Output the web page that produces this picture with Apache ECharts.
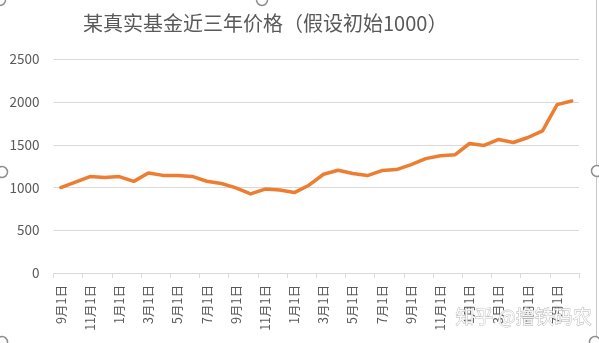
<!DOCTYPE html>
<html>
<head>
<meta charset="utf-8">
<script src="https://cdn.jsdelivr.net/npm/echarts@6/dist/echarts.min.js"></script>
<style>
  html, body { margin: 0; padding: 0; background: #ffffff; }
  #chart { width: 599px; height: 343px; }
</style>
</head>
<body>
<div id="chart"></div>
<script>
// Monthly dates over three years, starting September
const months = [
  '9月1日', '10月1日', '11月1日', '12月1日',
  '1月1日', '2月1日', '3月1日', '4月1日', '5月1日', '6月1日',
  '7月1日', '8月1日', '9月1日', '10月1日', '11月1日', '12月1日',
  '1月1日', '2月1日', '3月1日', '4月1日', '5月1日', '6月1日',
  '7月1日', '8月1日', '9月1日', '10月1日', '11月1日', '12月1日',
  '1月1日', '2月1日', '3月1日', '4月1日', '5月1日', '6月1日',
  '7月1日', '8月1日'
];

// Fund price, base 1000
const prices = [
  1000, 1062, 1128, 1118, 1128, 1072, 1171, 1142, 1140, 1130,
  1073, 1047, 995, 925, 982, 972, 941, 1027, 1155, 1202,
  1164, 1140, 1198, 1210, 1268, 1338, 1372, 1382, 1515, 1492,
  1562, 1527, 1585, 1663, 1970, 2013
];

const yTicks = { min: 0, max: 2500, step: 500 };

const titleText = '某真实基金近三年价格（假设初始1000）';
const watermark = '知乎 @撸铁码农';

const gray = '#595959';
const gridGray = '#d9d9d9';
const font = '"Noto Sans CJK SC", "Liberation Sans", sans-serif';

const chart = echarts.init(document.getElementById('chart'), null, { renderer: 'canvas' });

// Selection handles around the chart frame
const handles = [[0, 0], [262, 0], [2, 172], [597, 171], [2, 342], [595, 342]].map(([x, y]) => ({
  type: 'circle',
  shape: { cx: x, cy: y, r: 5.5 },
  style: { fill: '#ffffff', stroke: '#8f8f8f', lineWidth: 1.5 },
  z: 100
}));

chart.setOption({
  animation: false,
  backgroundColor: '#ffffff',
  title: {
    text: titleText,
    left: 78,
    top: 8,
    textStyle: { color: gray, fontSize: 20, fontWeight: 'normal', fontFamily: font }
  },
  grid: { left: 53.5, right: 20, top: 59.3, bottom: 70 },
  xAxis: {
    type: 'category',
    data: months,
    boundaryGap: true,
    axisLine: { lineStyle: { color: gridGray, width: 1 } },
    axisTick: { show: true, interval: 1, length: 5, lineStyle: { color: gridGray } },
    axisLabel: {
      interval: 1,
      rotate: 90,
      margin: 12,
      color: gray,
      fontSize: 12.5,
      fontFamily: font
    },
    splitLine: { show: false }
  },
  yAxis: {
    type: 'value',
    min: yTicks.min,
    max: yTicks.max,
    interval: yTicks.step,
    axisLine: { show: false },
    axisTick: { show: false },
    axisLabel: {
      color: gray,
      fontSize: 13.5,
      margin: 14,
      fontFamily: font,
      formatter: (v) => String(v)
    },
    splitLine: { lineStyle: { color: gridGray, width: 1 } }
  },
  series: [{
    type: 'line',
    data: prices,
    symbol: 'none',
    smooth: false,
    lineStyle: { color: '#ED7D31', width: 3.5, join: 'round', cap: 'round' }
  }],
  graphic: [
    {
      type: 'line',
      shape: { x1: 596.5, y1: 0, x2: 596.5, y2: 343 },
      style: { stroke: '#c8c8c8', lineWidth: 1 },
      z: 90
    },
    {
      type: 'text',
      left: 455,
      top: 307,
      style: {
        text: watermark,
        fontSize: 19,
        fontFamily: font,
        fill: 'rgba(255,255,255,0.85)',
        stroke: '#b5b5b5',
        lineWidth: 0.8
      },
      z: 95
    }
  ].concat(handles)
});
</script>
</body>
</html>
